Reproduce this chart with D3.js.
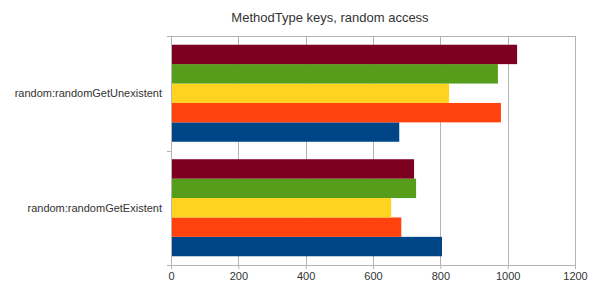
<!DOCTYPE html>
<html>
<head>
<meta charset="utf-8">
<script src="https://cdn.jsdelivr.net/npm/d3@7"></script>
<style>
  body { margin: 0; background: #fff; }
  text { font-family: "Liberation Sans", Arial, sans-serif; fill: #333; }
</style>
</head>
<body>
<div id="chart"></div>
<script>
// Kategorien von oben nach unten
const categories = ['random:randomGetUnexistent', 'random:randomGetExistent'];
// Serien in der Reihenfolge von unten nach oben innerhalb einer Gruppe
const seriesNames = ['s1', 's2', 's3', 's4', 's5'];
const seriesColors = ['#004586', '#ff420e', '#ffd320', '#579d1c', '#7e0021'];
const values = {
    'random:randomGetUnexistent': [678, 980, 826, 971, 1028],
    'random:randomGetExistent': [805, 684, 654, 728, 722]
};
const xTicks = [0, 200, 400, 600, 800, 1000, 1200];

const width = 593, height = 294;
const margin = { top: 36, right: 18, bottom: 29, left: 171 };

const svg = d3.select('#chart').append('svg')
    .attr('width', width)
    .attr('height', height);

const x = d3.scaleLinear().domain([0, 1200]).range([margin.left, width - margin.right]);
const y = d3.scaleBand().domain(categories).range([margin.top, height - margin.bottom]);
const inner = d3.scaleBand().domain(seriesNames.slice().reverse())
    .range([0, y.bandwidth()]).paddingOuter(0.45);

// Gitterlinien
svg.append('g').selectAll('line')
    .data(xTicks)
    .enter().append('line')
    .attr('x1', d => Math.round(x(d)) + 0.5)
    .attr('x2', d => Math.round(x(d)) + 0.5)
    .attr('y1', margin.top)
    .attr('y2', height - margin.bottom)
    .attr('stroke', '#b3b3b3');

svg.append('line')
    .attr('x1', margin.left).attr('x2', width - margin.right)
    .attr('y1', margin.top + 0.5).attr('y2', margin.top + 0.5)
    .attr('stroke', '#b3b3b3');

// Balken
const groups = svg.selectAll('g.cat')
    .data(categories)
    .enter().append('g')
    .attr('class', 'cat')
    .attr('transform', d => `translate(0, ${y(d)})`);

groups.selectAll('rect')
    .data(c => values[c].map((v, i) => ({ name: seriesNames[i], value: v, color: seriesColors[i] })))
    .enter().append('rect')
    .attr('x', x(0))
    .attr('y', d => inner(d.name))
    .attr('width', d => x(d.value) - x(0))
    .attr('height', inner.bandwidth())
    .attr('fill', d => d.color);

// X-Achse
const xAxis = svg.append('g')
    .attr('transform', `translate(0, ${height - margin.bottom})`)
    .call(d3.axisBottom(x).tickValues(xTicks).tickFormat(d3.format('d'))
        .tickSize(4).tickPadding(3).tickSizeOuter(0));
xAxis.select('.domain').attr('stroke', '#b3b3b3');
xAxis.selectAll('.tick line').attr('stroke', '#b3b3b3');
xAxis.selectAll('text').attr('font-size', '11px').attr('fill', '#333')
    .attr('font-family', '"Liberation Sans", Arial, sans-serif');

// Y-Achse
svg.append('line')
    .attr('x1', margin.left + 0.5).attr('x2', margin.left + 0.5)
    .attr('y1', margin.top).attr('y2', height - margin.bottom)
    .attr('stroke', '#b3b3b3');

const yBounds = [margin.top, y(categories[1]), height - margin.bottom];
svg.append('g').selectAll('line')
    .data(yBounds)
    .enter().append('line')
    .attr('x1', margin.left - 4).attr('x2', margin.left)
    .attr('y1', d => Math.round(d) + 0.5)
    .attr('y2', d => Math.round(d) + 0.5)
    .attr('stroke', '#b3b3b3');

svg.append('g').selectAll('text')
    .data(categories)
    .enter().append('text')
    .attr('x', margin.left - 9)
    .attr('y', d => y(d) + y.bandwidth() / 2)
    .attr('dy', '0.35em')
    .attr('text-anchor', 'end')
    .attr('font-size', '11px')
    .text(d => d);

// Titel
svg.append('text')
    .attr('x', 330)
    .attr('y', 22)
    .attr('text-anchor', 'middle')
    .attr('font-size', '13px')
    .text('MethodType keys, random access');
</script>
</body>
</html>
